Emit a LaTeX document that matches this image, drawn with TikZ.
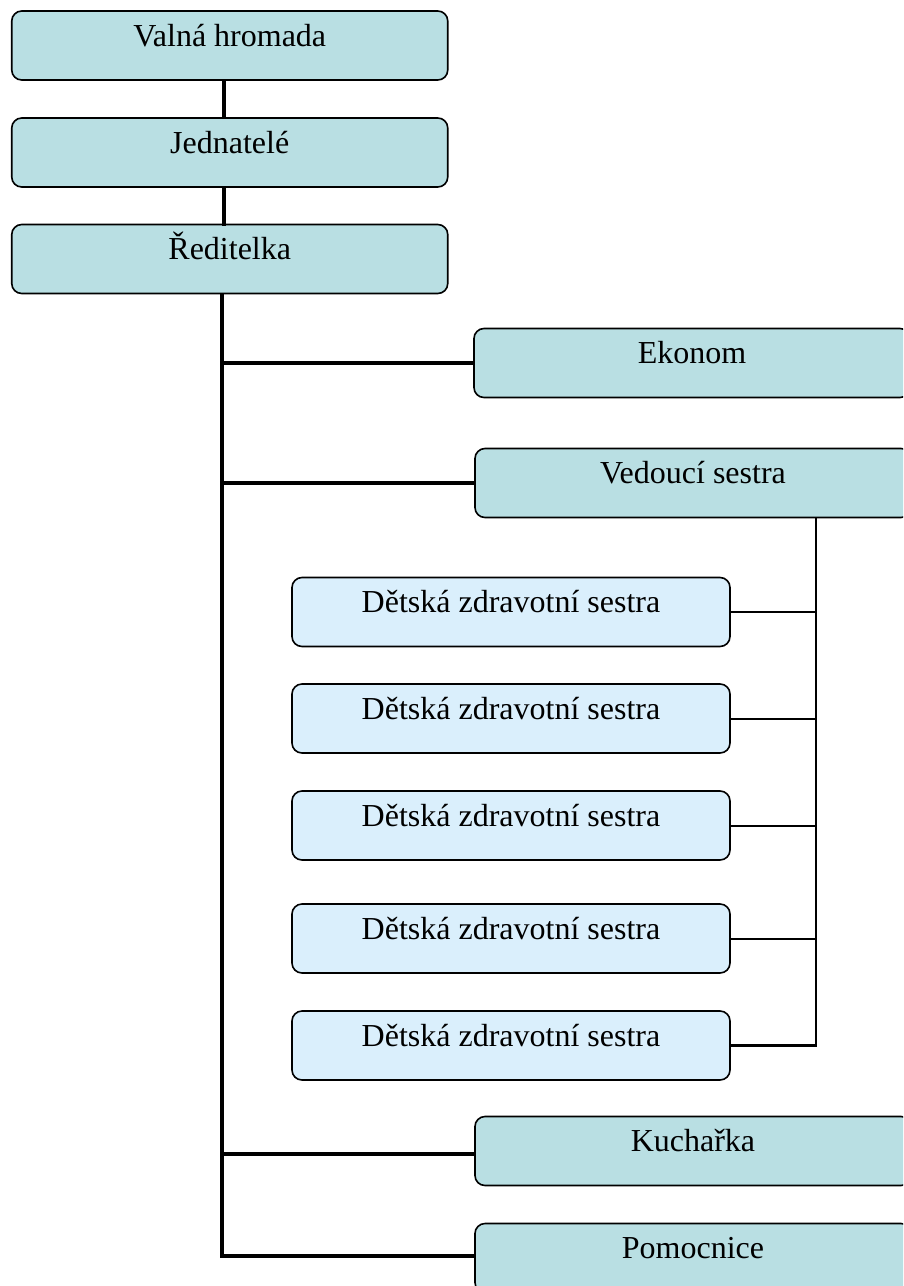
\documentclass[tikz,border=0pt]{standalone}
\usepackage{fontspec}
\setmainfont{Liberation Serif}
\usetikzlibrary{calc}
\definecolor{tealbox}{RGB}{185,223,227}
\definecolor{bluebox}{RGB}{218,239,252}
\begin{document}
\begin{tikzpicture}[x=1pt,y=-1pt,
  boxbase/.style={draw=black, line width=1.6pt, rounded corners=10pt, inner xsep=0pt, inner ysep=0pt,
    text height=35pt, text depth=34pt, font=\fontsize{32}{38}\selectfont},
  tbox/.style={boxbase, fill=tealbox, minimum width=436pt},
  bbox/.style={boxbase, fill=bluebox, minimum width=438pt},
  mainline/.style={line width=3.8pt, line cap=rect},
  subline/.style={line width=2pt},
  vline/.style={line width=2.5pt}]
\useasboundingbox (0,0) rectangle (903,1286);
\clip (0,0) rectangle (903,1286);
\fill[white] (0,0) rectangle (903,1286);
% top chain
\node[tbox] (v) at (229.75,45.5) {Valná hromada};
\node[tbox] (j) at (229.75,152.5) {Jednatelé};
\node[tbox] (r) at (229.75,259) {Ředitelka};
% right column
\node[tbox] (ek) at (692,363) {Ekonom};
\node[tbox] (ved) at (693,483) {Vedoucí sestra};
\node[tbox] (ku) at (693,1151) {Kuchařka};
\node[tbox] (po) at (693,1258) {Pomocnice};
% nurses
\node[bbox] (d1) at (511,612) {Dětská zdravotní sestra};
\node[bbox] (d2) at (511,718.5) {Dětská zdravotní sestra};
\node[bbox] (d3) at (511,825.5) {Dětská zdravotní sestra};
\node[bbox] (d4) at (511,938.5) {Dětská zdravotní sestra};
\node[bbox] (d5) at (511,1045.5) {Dětská zdravotní sestra};
% connectors
\draw[mainline] ([xshift=-6pt]v.south) -- ([xshift=-6pt]j.north);
\draw[mainline] ([xshift=-6pt]j.south) -- ([xshift=-6pt]r.north);
\coordinate (trunk) at ([xshift=-8pt]r.south);
\draw[mainline, line cap=butt] (trunk) |- ([yshift=2pt]po.west);
\draw[mainline, line cap=butt] (trunk |- ek.west) -- (ek.west);
\draw[mainline, line cap=butt] (trunk |- ved.west) -- (ved.west);
\draw[mainline, line cap=butt] ([yshift=-3pt]trunk |- ku.west) -- ([yshift=-3pt]ku.west);
\coordinate (vs) at ([xshift=123pt]ved.south);
\draw[vline] (vs) |- (d5.east);
\foreach \n in {d1,d2,d3,d4} {
  \draw[subline] (\n.east) -- (vs |- \n.east);
}
\end{tikzpicture}
\end{document}
